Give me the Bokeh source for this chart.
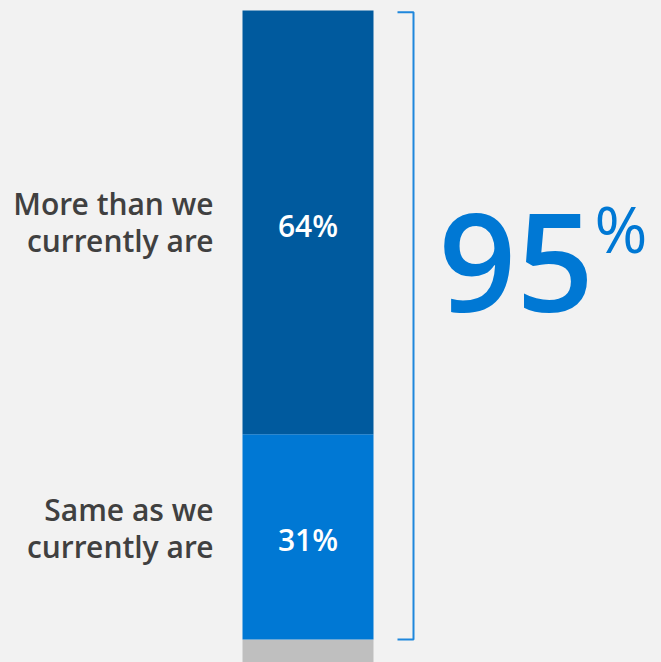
from bokeh.plotting import figure
from bokeh.models import Range1d, ColumnDataSource, GlobalInlineStyleSheet
from bokeh.core.properties import value
from bokeh.embed import file_html
from bokeh.resources import INLINE

# data
categories = ["Other", "Same as we\ncurrently are", "More than we\ncurrently are"]
values = [5, 31, 64]
value_labels = ["", "31%", "64%"]
colors = ["#bfbfbf", "#0078d4", "#005a9e"]
headline_value = "95"

W, H = 661, 662
p = figure(width=W, height=H, output_backend="svg", toolbar_location=None,
           x_range=Range1d(0, W), y_range=Range1d(1.53, 101.51),
           min_border=0, border_fill_color="#f2f2f2", background_fill_color="#f2f2f2")
p.axis.visible = False
p.grid.visible = False
p.outline_line_color = None
p.stylesheets = [GlobalInlineStyleSheet(css="body{background:#f2f2f2;}")]

SEMI = value("Open Sans SemiBold")

bottoms, tops, mids = [], [], []
acc = 0
for v in values:
    bottoms.append(acc)
    acc += v
    tops.append(acc)
    mids.append((bottoms[-1] + tops[-1]) / 2)

bar_x = 307.5
src = ColumnDataSource(dict(x=[bar_x] * 3, bottom=bottoms, top=tops, color=colors,
                            mid=[m - 0.45 for m in mids], lab=value_labels))
p.vbar(x="x", bottom="bottom", top="top", width=131, fill_color="color", line_color=None, source=src)

# value labels inside bars
p.text(x="x", y="mid", text="lab", source=src, text_align="center", text_baseline="middle",
       text_color="white", text_font=SEMI, text_font_size="30px")

# category labels on left
label_offsets = [1.4, 0.0]
lab_src = ColumnDataSource(dict(x=[213, 213], y=[m + o for m, o in zip(mids[1:], label_offsets)],
                                text=categories[1:]))
p.text(x="x", y="y", text="text", source=lab_src, text_align="right", text_baseline="middle",
       text_color="#404040", text_font=SEMI, text_font_size="30px", text_line_height=0.9)

# bracket spanning top two segments
top_y, bot_y = tops[-1] - 0.25, bottoms[1]
bx = 413
p.line(x=[bx - 16, bx, bx, bx - 16], y=[top_y, top_y, bot_y, bot_y],
       line_color="#1f87dc", line_width=2)

# headline
head_y = 61.8
p.text(x=[438], y=[head_y], text=[headline_value], text_align="left", text_baseline="middle",
       text_color="#0078d4", text_font=SEMI, text_font_size="136px")
p.text(x=[594], y=[head_y + 5.3], text=["%"], text_align="left", text_baseline="middle",
       text_color="#0078d4", text_font=value("Open Sans"), text_font_size="64px")

open("out.html", "w").write(file_html(p, INLINE))
